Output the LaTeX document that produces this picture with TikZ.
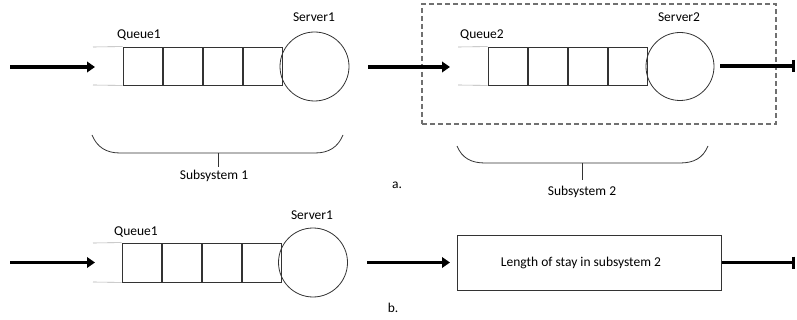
\documentclass[tikz,border=0pt]{standalone}
\usepackage{fontspec}
\setmainfont{Carlito}
\usetikzlibrary{arrows.meta,positioning}
\definecolor{boxline}{HTML}{333333}
\definecolor{guide}{HTML}{B0B0B0}
\definecolor{dashc}{HTML}{707070}
\begin{document}
\begin{tikzpicture}[x=1pt,y=-1pt,
  qbox/.style={draw=boxline,line width=0.8pt,minimum width=39.25pt,minimum height=38pt,inner sep=0pt},
  server/.style={draw=boxline,line width=0.8pt,circle,minimum size=69pt,inner sep=0pt},
  guideline/.style={draw=guide,line width=0.6pt},
  flow/.style={line width=3.4pt,-{Triangle[length=8pt,width=10.5pt]}},
  outflow/.style={line width=3.4pt,-{Bar[width=12pt]}},
  brace/.style={draw=boxline,line width=0.8pt},
  lbl/.style={font=\fontsize{13.5}{15}\selectfont,inner sep=0pt},
  dashbox/.style={draw=dashc,line width=1.1pt,dash pattern=on 5pt off 3pt}]
\useasboundingbox (0,0) rectangle (797,320);

% ---------- a. left: subsystem 1 ----------
\coordinate (a1s) at (10,67);
\coordinate (a1e) at (95,67);
\draw[flow] (a1s) -- (a1e);
\node[qbox] (q1a) at (142.6,66) {};
\node[qbox,right=0pt of q1a] (q1b) {};
\node[qbox,right=0pt of q1b] (q1c) {};
\node[qbox,right=0pt of q1c] (q1d) {};
\coordinate (g1t) at (93,47);
\coordinate (g1b) at (93,85);
\draw[guideline] (g1t) -- (q1a.north west);
\draw[guideline] (g1b) -- (q1a.south west);
\node[server] (s1) at (314.5,66.5) {};
\node[lbl] (lq1) at (139,35) {Queue1};
\node[lbl] (ls1) at (314,17) {Server1};
% brace 1
\coordinate (b1l) at (92,135);
\coordinate (b1m) at (218,153);
\coordinate (b1r) at (343,135);
\draw[brace] (b1l) .. controls (97,147) and (106,153) .. (120,153) -- (315,153) .. controls (329,153) and (338,147) .. (b1r);
\node[lbl] (sub1) at (214,176) {Subsystem 1};
\coordinate (b1t) at (218,167);
\draw[brace] (b1m) -- (b1t);

% ---------- a. right: subsystem 2 ----------
\node[dashbox,minimum width=354pt,minimum height=120pt,inner sep=0pt] (dbox) at (599,64) {};
\coordinate (a2s) at (368,67);
\coordinate (a2e) at (450,67);
\draw[flow] (a2s) -- (a2e);
\node[qbox] (q2a) at (507.6,66) {};
\node[qbox,right=0pt of q2a] (q2b) {};
\node[qbox,right=0pt of q2b] (q2c) {};
\node[qbox,right=0pt of q2c] (q2d) {};
\coordinate (g2t) at (458,47);
\coordinate (g2b) at (458,85);
\draw[guideline] (g2t) -- (q2a.north west);
\draw[guideline] (g2b) -- (q2a.south west);
\node[server,minimum size=68pt] (s2) at (680,66.5) {};
\node[lbl] (lq2) at (482,35) {Queue2};
\node[lbl] (ls2) at (679,17) {Server2};
\coordinate (o2s) at (720,66);
\coordinate (o2e) at (795,66);
\draw[outflow] (o2s) -- (o2e);
% brace 2
\coordinate (b2l) at (457,146);
\coordinate (b2m) at (582,163);
\coordinate (b2r) at (708,146);
\draw[brace] (b2l) .. controls (462,158) and (471,163) .. (485,163) -- (680,163) .. controls (694,163) and (703,158) .. (b2r);
\node[lbl] (sub2) at (582,192) {Subsystem 2};
\coordinate (b2t) at (582,180);
\draw[brace] (b2m) -- (b2t);
\node[lbl] (la) at (397,185) {a.};

% ---------- b. ----------
\coordinate (b3s) at (10,262.5);
\coordinate (b3e) at (95,262.5);
\draw[flow] (b3s) -- (b3e);
\node[qbox,minimum height=39pt] (q3a) at (141.6,262.5) {};
\node[qbox,minimum height=39pt,right=0pt of q3a] (q3b) {};
\node[qbox,minimum height=39pt,right=0pt of q3b] (q3c) {};
\node[qbox,minimum height=39pt,right=0pt of q3c] (q3d) {};
\coordinate (g3t) at (93,243);
\coordinate (g3b) at (93,282);
\draw[guideline] (g3t) -- (q3a.north west);
\draw[guideline] (g3b) -- (q3a.south west);
\node[server] (s3) at (313,262.5) {};
\node[lbl] (lq3) at (136,232) {Queue1};
\node[lbl] (ls3) at (312,215) {Server1};
\node[lbl] (lb) at (393,308) {b.};

\coordinate (b4s) at (367,262.5);
\coordinate (b4e) at (450,262.5);
\draw[flow] (b4s) -- (b4e);
\node[draw=boxline,line width=0.8pt,minimum width=264pt,minimum height=55pt,inner sep=0pt,font=\fontsize{13.5}{15}\selectfont] (los) at (589,262.5) {\hspace*{-16pt}Length of stay in subsystem 2};
\coordinate (o4s) at (722,262.5);
\coordinate (o4e) at (795,262.5);
\draw[outflow] (o4s) -- (o4e);
\end{tikzpicture}
\end{document}
